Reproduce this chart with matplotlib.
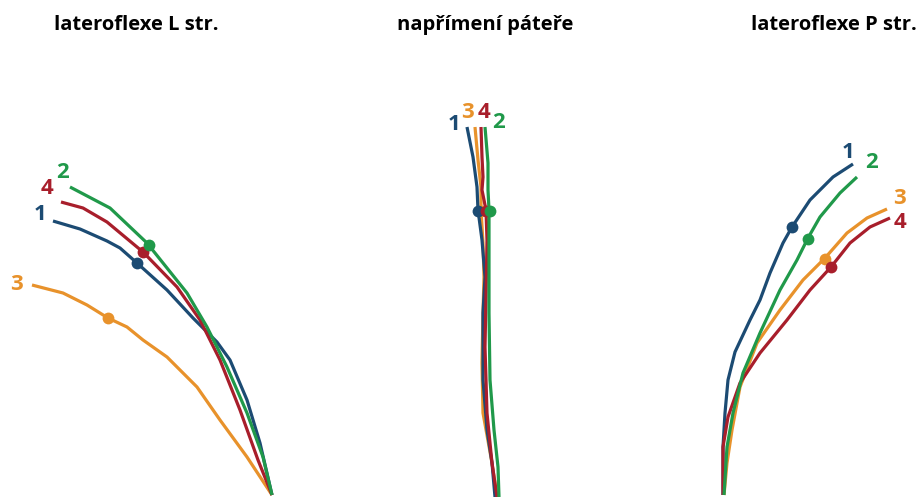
#!/usr/bin/env python3
"""Tvar páteře ve třech polohách - 4 měření, souřadnice odečtené z obrázku (px)."""
import matplotlib
matplotlib.use("Agg")
import matplotlib.pyplot as plt

W, H = 920, 497

COLORS = {"1": "#1c4b73", "2": "#20994a", "3": "#e8922b", "4": "#a81e2b"}

TITLES = ["lateroflexe L str.", "napřímení páteře", "lateroflexe P str."]
TITLE_X = [136, 485, 834]

# --- lateroflexe L str. ---
left_x = {
    "1": [53, 80, 107, 120, 137, 167, 193, 217, 230, 247, 260, 272],
    "2": [70, 110, 147, 187, 207, 227, 247, 263, 272],
    "3": [32, 63, 87, 108, 127, 143, 167, 197, 220, 247, 272],
    "4": [61, 83, 107, 143, 177, 200, 220, 240, 258, 272],
}
left_y = {
    "1": [221, 229, 241, 248, 263, 290, 318, 342, 360, 400, 443, 495],
    "2": [187, 208, 243, 293, 327, 367, 413, 457, 495],
    "3": [285, 293, 305, 318, 327, 340, 357, 387, 420, 457, 495],
    "4": [202, 208, 222, 252, 287, 320, 360, 410, 460, 495],
}
left_dot = {"1": (137, 263), "2": (149, 245), "3": (108, 318), "4": (143, 252)}
left_lab = {"1": (40, 215), "2": (63, 173), "3": (17, 284), "4": (47, 188)}

# --- napřímení páteře ---
mid_x = {
    "1": [467, 473, 477, 478, 482, 485, 483, 483, 487, 492, 495],
    "2": [485, 488, 488, 489, 489, 489, 489, 490, 494, 498, 499],
    "3": [475, 478, 481, 481, 483, 484, 483, 482, 483, 492, 497],
    "4": [481, 482, 483, 482, 486, 487, 486, 485, 487, 492, 497],
}
mid_y = {
    "1": [127, 157, 187, 210, 240, 277, 313, 380, 430, 463, 497],
    "2": [127, 163, 190, 210, 240, 277, 313, 380, 430, 467, 497],
    "3": [127, 160, 187, 210, 243, 277, 313, 363, 413, 463, 497],
    "4": [127, 157, 177, 190, 210, 240, 297, 347, 413, 463, 497],
}
mid_dot = {"1": (478, 211), "2": (490, 211), "3": (481, 211), "4": (486, 211)}
mid_lab = {"1": (454, 125), "2": (499, 123), "3": (468, 113), "4": (484, 113)}

# --- lateroflexe P str. ---
right_x = {
    "1": [853, 833, 810, 792, 783, 770, 760, 750, 735, 728, 725, 723, 723],
    "2": [857, 840, 820, 808, 797, 780, 760, 743, 733, 727, 724],
    "3": [887, 867, 847, 825, 803, 780, 757, 740, 732, 727, 724],
    "4": [890, 870, 850, 831, 810, 787, 760, 740, 728, 723, 723],
}
right_y = {
    "1": [164, 177, 200, 227, 243, 273, 300, 320, 352, 380, 413, 447, 495],
    "2": [177, 193, 217, 238, 260, 290, 333, 373, 413, 447, 495],
    "3": [209, 218, 233, 258, 280, 310, 343, 387, 430, 463, 495],
    "4": [218, 227, 243, 267, 290, 320, 353, 383, 417, 447, 495],
}
right_dot = {"1": (792, 227), "2": (808, 239), "3": (825, 259), "4": (831, 267)}
right_lab = {"1": (848, 152), "2": (872, 163), "3": (900, 199), "4": (900, 222)}

PANELS = [
    (left_x, left_y, left_dot, left_lab),
    (mid_x, mid_y, mid_dot, mid_lab),
    (right_x, right_y, right_dot, right_lab),
]

fig = plt.figure(figsize=(W / 100, H / 100), dpi=100)
ax = fig.add_axes([0, 0, 1, 1])
ax.set_xlim(0, W)
ax.set_ylim(H, 0)
ax.axis("off")

for xs, ys, dots, labs in PANELS:
    for key in ["3", "1", "4", "2"]:
        c = COLORS[key]
        ax.plot(xs[key], ys[key], color=c, lw=2.3,
                solid_joinstyle="round", solid_capstyle="butt", zorder=2)
        ax.plot(*dots[key], "o", color=c, ms=8.5, mec="none", zorder=3)
        ax.text(*labs[key], key, color=c, fontsize=16, fontweight="bold",
                family="Open Sans", ha="center", va="center")

for t, x in zip(TITLES, TITLE_X):
    ax.text(x, 25, t, fontsize=14.5, fontweight="bold", family="Open Sans",
            ha="center", va="center", color="black")

fig.savefig("out.png", dpi=100)
